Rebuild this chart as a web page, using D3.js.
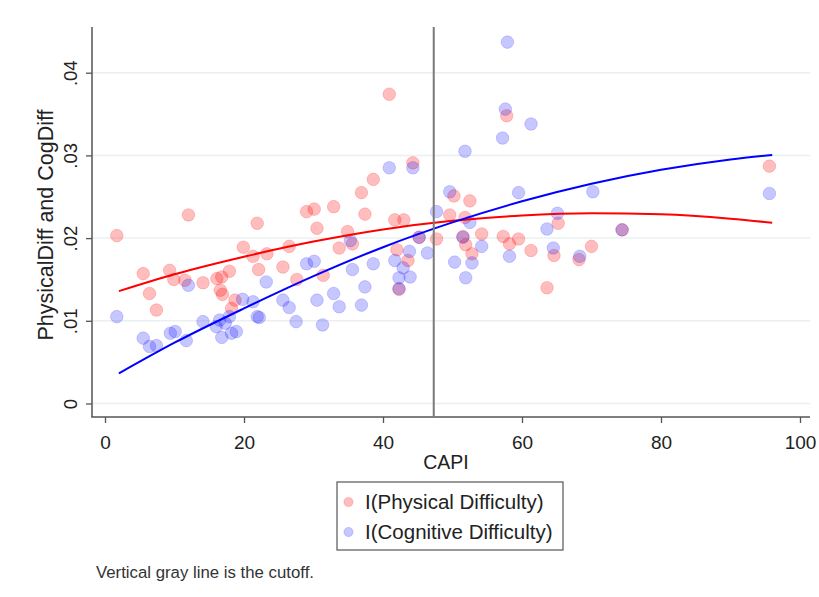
<!DOCTYPE html>
<html>
<head>
<meta charset="utf-8">
<script src="https://cdn.jsdelivr.net/npm/d3@7"></script>
<style>
  html, body { margin: 0; padding: 0; background: #fff; }
  svg { display: block; font-family: "Liberation Sans", Arial, sans-serif; }
</style>
</head>
<body>
<svg id="chart" width="819" height="597"></svg>
<script>
// ---- Data ----
const physCAPI = [1.7,5.5,6.4,7.4,9.3,9.9,11.5,12.0,14.1,16.1,16.8,16.6,16.9,17.9,18.2,18.7,19.9,21.3,21.9,22.1,23.3,25.6,26.5,27.6,29.0,30.1,30.5,31.4,32.9,33.7,34.9,35.6,36.9,37.4,38.6,40.9,41.7,43.0,42.0,43.6,42.3,44.3,45.2,47.7,49.6,50.2,51.8,52.5,51.5,51.9,52.8,54.2,57.3,57.8,58.2,59.5,61.3,63.6,64.6,65.2,68.2,70.0,74.4,95.6];
const physDiff = [.0203,.0157,.0133,.0113,.0161,.0150,.0149,.0228,.0146,.0151,.0153,.0137,.0132,.0160,.0115,.0125,.0189,.0178,.0218,.0162,.0181,.0165,.0190,.0150,.0232,.0235,.0212,.0155,.0238,.0188,.0208,.0193,.0255,.0229,.0271,.0374,.0222,.0222,.0186,.0173,.0138,.0291,.0201,.0199,.0228,.0251,.0225,.0245,.0202,.0192,.0181,.0205,.0202,.0348,.0193,.0199,.0185,.0140,.0179,.0218,.0174,.0190,.0210,.0287];

const cogCAPI = [1.7,5.5,6.4,7.4,9.4,10.1,11.7,12.0,14.1,16.0,16.5,16.8,17.3,17.9,18.2,18.9,19.8,21.3,21.9,22.2,23.2,25.6,26.5,27.5,29.0,30.1,30.5,31.3,32.9,33.7,35.3,35.6,36.9,37.4,38.6,40.9,41.7,42.3,42.3,42.9,43.8,43.9,44.3,45.2,46.4,47.7,49.6,50.3,51.5,51.8,51.9,52.5,52.8,54.2,57.2,57.6,57.9,58.2,59.5,61.3,63.6,64.5,65.1,68.3,70.2,74.4,95.6];
const cogDiff = [.0105,.0079,.0069,.0070,.0085,.0087,.0076,.0143,.0099,.0093,.0101,.0080,.0097,.0105,.0085,.0087,.0126,.0123,.0105,.0104,.0147,.0125,.0116,.0099,.0169,.0172,.0125,.0095,.0133,.0117,.0197,.0162,.0119,.0141,.0169,.0285,.0173,.0139,.0152,.0164,.0184,.0153,.0285,.0201,.0182,.0232,.0256,.0171,.0201,.0305,.0152,.0219,.0170,.0190,.0321,.0356,.0437,.0178,.0255,.0338,.0211,.0188,.0230,.0178,.0256,.0210,.0254];

// Quadratic fit lines
const fitCAPI = [2,10,20,30,40,50,60,70,80,90,96];
const fitPhys = [.01359,.01563,.01775,.01958,.02105,.02209,.02273,.02299,.02287,.02235,.02186];
const fitCog  = [.00364,.00735,.01150,.01540,.01890,.02190,.02445,.02657,.02826,.02951,.03006];

const cutoff = 47.3;
const xTicks = [0,20,40,60,80,100];
const yTicks = [0,.01,.02,.03,.04];
const yTickLabels = ["0",".01",".02",".03",".04"];
const seriesNames = ["I(Physical Difficulty)","I(Cognitive Difficulty)"];
const xTitle = "CAPI";
const yTitle = "PhysicalDiff and CogDiff";
const noteText = "Vertical gray line is the cutoff.";

// ---- Layout ----
const svg = d3.select("#chart");
const plot = {left: 92, right: 810, top: 27, bottom: 417};
const x = d3.scaleLinear().domain([0,100]).range([105,800]);
const y = d3.scaleLinear().domain([0,.04]).range([403.5,72.7]);

const redFill = "rgba(255,0,0,0.26)";
const blueFill = "rgba(0,0,255,0.22)";

// gridlines
svg.append("g").selectAll("line").data(yTicks).join("line")
  .attr("x1", plot.left).attr("x2", plot.right)
  .attr("y1", d => y(d)).attr("y2", d => y(d))
  .attr("stroke", "#eaf0f0").attr("stroke-width", 1.5);

// y axis
const yAxis = svg.append("g").attr("transform", `translate(${plot.left},0)`)
  .call(d3.axisLeft(y).tickValues(yTicks).tickSize(6).tickFormat((d,i) => yTickLabels[i]));
yAxis.select(".domain").remove();
yAxis.selectAll(".tick line").attr("stroke", "#555").attr("stroke-width", 1.3);
yAxis.selectAll(".tick text")
  .attr("x", 0).attr("dy", "0.35em")
  .attr("transform", "translate(-21,0) rotate(-90)")
  .attr("text-anchor", "middle")
  .attr("fill", "#222").style("font-size", "18.5px");

// x axis
const xAxis = svg.append("g").attr("transform", `translate(0,${plot.bottom})`)
  .call(d3.axisBottom(x).tickValues(xTicks).tickSize(6).tickFormat(d3.format("d")));
xAxis.select(".domain").remove();
xAxis.selectAll(".tick line").attr("stroke", "#555").attr("stroke-width", 1.3);
xAxis.selectAll(".tick text").attr("y", 25).attr("dy", "0.35em")
  .attr("fill", "#222").style("font-size", "19px");

// axis lines
svg.append("line").attr("x1", plot.left).attr("x2", plot.left)
  .attr("y1", plot.top).attr("y2", plot.bottom)
  .attr("stroke", "#555").attr("stroke-width", 1.5);
svg.append("line").attr("x1", plot.left - 0.75).attr("x2", plot.right)
  .attr("y1", plot.bottom).attr("y2", plot.bottom)
  .attr("stroke", "#555").attr("stroke-width", 1.5);

// points
const phys = physCAPI.map((c,i) => ({c, v: physDiff[i]}));
const cog = cogCAPI.map((c,i) => ({c, v: cogDiff[i]}));
svg.append("g").selectAll("circle").data(phys).join("circle")
  .attr("cx", d => x(d.c)).attr("cy", d => y(d.v)).attr("r", 6.3)
  .attr("fill", redFill).attr("stroke", "rgba(255,0,0,0.18)").attr("stroke-width", 1);
svg.append("g").selectAll("circle").data(cog).join("circle")
  .attr("cx", d => x(d.c)).attr("cy", d => y(d.v)).attr("r", 6.3)
  .attr("fill", blueFill).attr("stroke", "rgba(0,0,255,0.16)").attr("stroke-width", 1);

// fit lines
const line = d3.line().x(d => x(d[0])).y(d => y(d[1])).curve(d3.curveMonotoneX);
svg.append("path").datum(fitCAPI.map((c,i) => [c, fitPhys[i]]))
  .attr("d", line).attr("fill", "none").attr("stroke", "#ff0000").attr("stroke-width", 2);
svg.append("path").datum(fitCAPI.map((c,i) => [c, fitCog[i]]))
  .attr("d", line).attr("fill", "none").attr("stroke", "#0000ff").attr("stroke-width", 2);

// cutoff line
svg.append("line").attr("x1", x(cutoff)).attr("x2", x(cutoff))
  .attr("y1", plot.top).attr("y2", plot.bottom)
  .attr("stroke", "#7a7a7a").attr("stroke-width", 2);

// titles
svg.append("text").attr("x", 446).attr("y", 462).attr("dy", "0.35em")
  .attr("text-anchor", "middle").attr("fill", "#222").style("font-size", "19.5px").text(xTitle);
svg.append("text").attr("transform", "translate(45.5,225) rotate(-90)").attr("dy", "0.35em")
  .attr("text-anchor", "middle").attr("fill", "#222").style("font-size", "21.5px").text(yTitle);

// legend
const lg = svg.append("g");
lg.append("rect").attr("x", 337).attr("y", 482).attr("width", 226).attr("height", 68)
  .attr("fill", "#fff").attr("stroke", "#555").attr("stroke-width", 1.2);
const legFills = [redFill, blueFill];
const legStroke = ["rgba(255,0,0,0.18)", "rgba(0,0,255,0.16)"];
seriesNames.forEach((name, i) => {
  const cy = 502 + i * 30;
  lg.append("circle").attr("cx", 348.5).attr("cy", cy).attr("r", 4.6)
    .attr("fill", legFills[i]).attr("stroke", legStroke[i]);
  lg.append("text").attr("x", 365).attr("y", cy).attr("dy", "0.35em")
    .attr("fill", "#222").style("font-size", "20.5px").text(name);
});

// note
svg.append("text").attr("x", 96).attr("y", 572).attr("dy", "0.35em")
  .attr("fill", "#333").style("font-size", "16.8px").text(noteText);
</script>
</body>
</html>
